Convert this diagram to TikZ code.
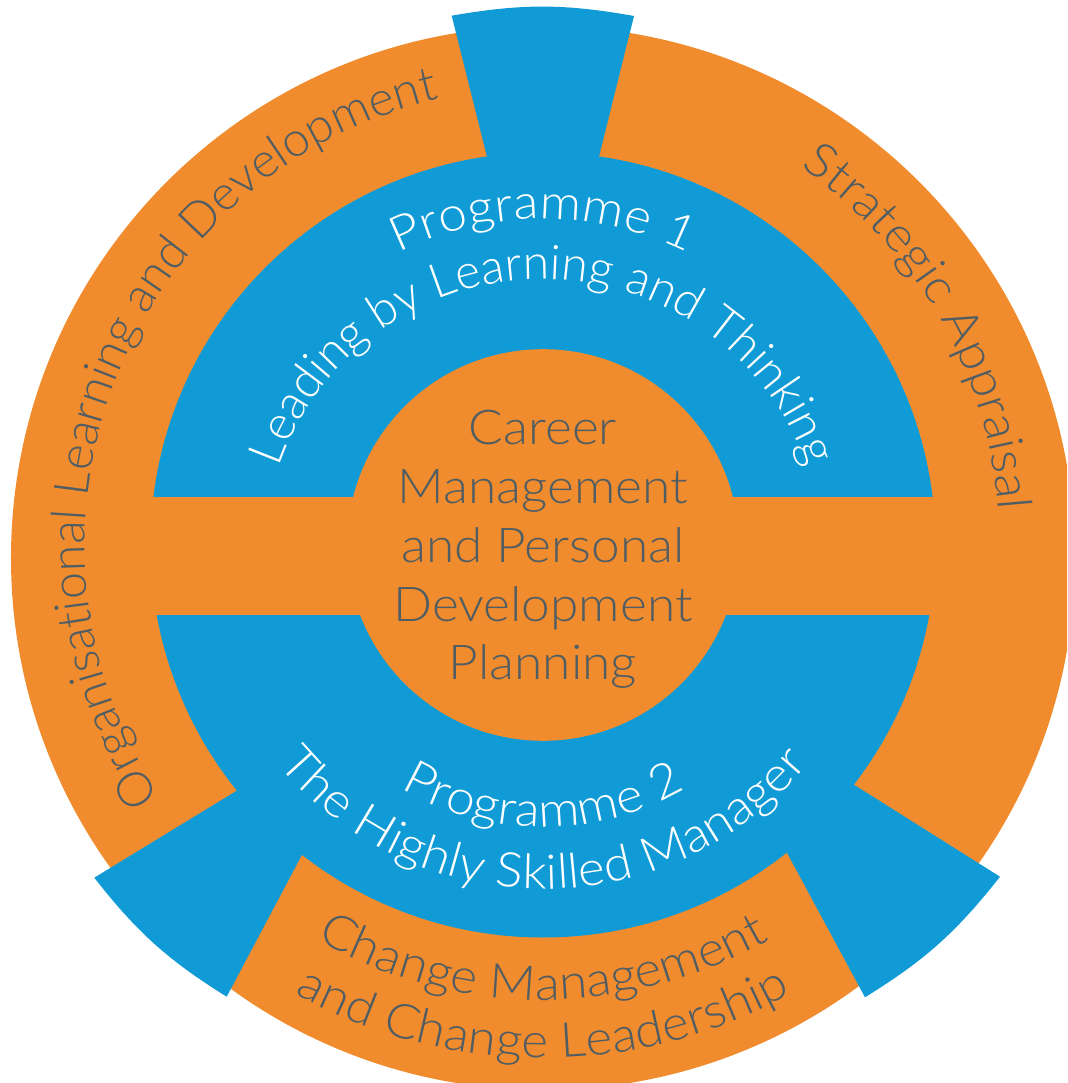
\documentclass[tikz,border=0pt]{standalone}
\usepackage{fontspec}
\setmainfont{Lato Light}[FakeStretch=1.07]
\newfontfamily\plainlight{Lato Light}[FakeStretch=1.0]
\newfontfamily\midlight{Lato Light}[FakeStretch=1.012]
\usetikzlibrary{decorations.text,calc}
\definecolor{ringorange}{HTML}{F18C2E}
\definecolor{ringblue}{HTML}{109BD6}
\definecolor{txtgray}{HTML}{505D63}
\tikzset{
  curved/.style n args={3}{decorate, decoration={text along path, text align=center,
      text={|#1\fontsize{48}{48}\selectfont\color{#2}|#3}}},
  centerline/.style={anchor=base, inner sep=0pt, text=txtgray, font=\fontsize{48}{48}\selectfont}
}
\begin{document}
\begin{tikzpicture}[x=1pt,y=1pt]
\useasboundingbox (-543,-538) rectangle (524,545);
\clip (-543,-538) rectangle (524,545);
% outer orange disc
\fill[ringorange] (0,-13) circle[radius=532];
% blue spokes
\fill[ringblue] (-44,340) -- (-91.3,529.3) to[bend left=10] (91,529) -- (44,340) -- cycle;
\fill[ringblue] (-249.3,-210.9) -- (-448.7,-332.7) to[bend right=10] (-316.3,-451.7) -- (-210.5,-252.3) -- cycle;
\fill[ringblue] (251.6,-202.3) -- (457,-331.7) to[bend left=10] (322,-452.3) -- (212.4,-249.3) -- cycle;
% blue ring
\fill[ringblue] (0,0) circle[radius=392.5];
% horizontal orange band
\fill[ringorange] (-400,-70) rectangle (400,48.3);
% inner orange disc
\fill[ringorange] (0,0) circle[radius=195.8];
% centre text
\node[centerline] (c1) at (0,100) {Career};
\node[centerline] (c2) at (0,41.7) {Management};
\node[centerline] (c3) at (0,-17.7) {and Personal};
\node[centerline] (c4) at (0,-76.7) {Development};
\node[centerline] (c5) at (0,-135) {Planning};
% programme texts
\path[curved={}{white}{Programme 1}] (150:326) arc[start angle=150, end angle=30, radius=326];
\path[curved={\plainlight}{white}{Leading by Learning and Thinking}] ($(0,-14)+(175:280)$) arc[start angle=175, end angle=5, radius=280];
\path[curved={}{white}{Programme 2}] (200:282) arc[start angle=200, end angle=340, radius=282];
\path[curved={}{white}{The Highly Skilled Manager}] (185:344) arc[start angle=185, end angle=355, radius=344];
% outer ring texts
\path[curved={\midlight}{txtgray}{Organisational Learning and Development}] (239:458) arc[start angle=239, end angle=77.4, radius=458];
\path[curved={}{txtgray}{Strategic Appraisal}] (80:457) arc[start angle=80, end angle=-20, radius=457];
\path[curved={}{txtgray}{Change Management}] (215:455) arc[start angle=215, end angle=325, radius=455];
\path[curved={}{txtgray}{and Change Leadership}] (215:513) arc[start angle=215, end angle=325, radius=513];
\end{tikzpicture}
\end{document}
